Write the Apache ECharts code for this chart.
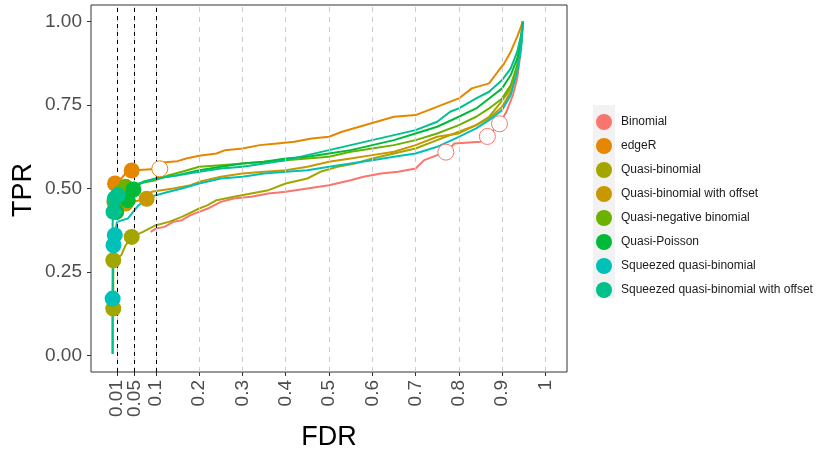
<!DOCTYPE html>
<html>
<head>
<meta charset="utf-8">
<script src="https://cdn.jsdelivr.net/npm/echarts@6/dist/echarts.min.js"></script>
<style>html,body{margin:0;padding:0;background:#fff}#c{width:832px;height:454px}</style>
</head>
<body>
<div id="c"></div>
<script>
// ---- data ----
const methods = ["Binomial","edgeR","Quasi-binomial","Quasi-binomial with offset","Quasi-negative binomial","Quasi-Poisson","Squeezed quasi-binomial","Squeezed quasi-binomial with offset"];
const colors = ["#F8766D","#E58700","#A3A500","#C99800","#6BB100","#00BA38","#00C0B8","#00C08B"];
const xTicks = [0.01,0.05,0.1,0.2,0.3,0.4,0.5,0.6,0.7,0.8,0.9,1];
const xTickLabels = ["0.01","0.05","0.1","0.2","0.3","0.4","0.5","0.6","0.7","0.8","0.9","1"];
const yTicks = [0,0.25,0.5,0.75,1];
const yTickLabels = ["0.00","0.25","0.50","0.75","1.00"];
const thresholds = [0.01,0.05,0.1];

// curves: [FDR, TPR]
const curveBinomial = [[0.088,0.37],[0.10,0.38],[0.12,0.385],[0.14,0.40],[0.16,0.405],[0.18,0.42],[0.20,0.43],[0.22,0.44],[0.25,0.46],[0.28,0.47],[0.32,0.475],[0.36,0.485],[0.40,0.49],[0.45,0.50],[0.50,0.51],[0.55,0.525],[0.58,0.535],[0.62,0.545],[0.66,0.55],[0.70,0.56],[0.72,0.585],[0.75,0.60],[0.77,0.609],[0.79,0.635],[0.85,0.64],[0.866,0.656],[0.88,0.675],[0.894,0.694],[0.91,0.73],[0.925,0.78],[0.935,0.83],[0.942,0.90],[0.948,1.0]];
const curveEdgeR = [[0.004,0.50],[0.0055,0.515],[0.02,0.53],[0.03,0.545],[0.044,0.554],[0.07,0.556],[0.109,0.559],[0.115,0.578],[0.15,0.582],[0.17,0.59],[0.2,0.598],[0.24,0.605],[0.26,0.615],[0.3,0.62],[0.34,0.63],[0.38,0.635],[0.42,0.64],[0.46,0.65],[0.5,0.655],[0.53,0.67],[0.57,0.685],[0.61,0.70],[0.65,0.715],[0.70,0.72],[0.73,0.735],[0.77,0.755],[0.80,0.77],[0.83,0.80],[0.87,0.815],[0.89,0.85],[0.905,0.875],[0.92,0.91],[0.935,0.955],[0.948,1.0]];
const curveQB = [[0.0015,0.14],[0.0015,0.285],[0.02,0.30],[0.03,0.33],[0.044,0.355],[0.07,0.37],[0.1,0.39],[0.13,0.40],[0.16,0.415],[0.2,0.44],[0.22,0.45],[0.24,0.465],[0.28,0.475],[0.32,0.485],[0.36,0.495],[0.40,0.515],[0.45,0.53],[0.48,0.55],[0.52,0.565],[0.56,0.575],[0.60,0.59],[0.65,0.605],[0.70,0.62],[0.75,0.645],[0.80,0.67],[0.84,0.69],[0.87,0.715],[0.895,0.755],[0.915,0.79],[0.93,0.84],[0.94,0.90],[0.948,1.0]];
const curveQBOffset = [[0.005,0.41],[0.008,0.43],[0.03,0.455],[0.0785,0.469],[0.09,0.49],[0.14,0.50],[0.18,0.51],[0.2,0.52],[0.25,0.535],[0.3,0.545],[0.35,0.55],[0.4,0.555],[0.45,0.565],[0.5,0.58],[0.55,0.59],[0.6,0.60],[0.65,0.61],[0.7,0.63],[0.75,0.655],[0.8,0.665],[0.84,0.69],[0.87,0.71],[0.9,0.745],[0.92,0.79],[0.935,0.85],[0.943,0.92],[0.948,1.0]];
const curveQNB = [[0.003,0.44],[0.004,0.46],[0.02,0.49],[0.03,0.505],[0.06,0.515],[0.1,0.525],[0.13,0.54],[0.16,0.55],[0.2,0.565],[0.25,0.57],[0.3,0.575],[0.35,0.58],[0.4,0.585],[0.45,0.59],[0.5,0.595],[0.55,0.61],[0.6,0.62],[0.65,0.63],[0.7,0.645],[0.75,0.665],[0.8,0.69],[0.84,0.715],[0.87,0.74],[0.9,0.77],[0.92,0.81],[0.935,0.87],[0.944,0.93],[0.948,1.0]];
const curveQP = [[0.005,0.41],[0.008,0.43],[0.035,0.465],[0.048,0.497],[0.07,0.52],[0.1,0.53],[0.15,0.54],[0.2,0.555],[0.25,0.565],[0.3,0.575],[0.35,0.58],[0.4,0.59],[0.45,0.595],[0.5,0.605],[0.55,0.615],[0.6,0.63],[0.65,0.645],[0.7,0.665],[0.75,0.685],[0.8,0.715],[0.84,0.74],[0.87,0.77],[0.9,0.80],[0.92,0.84],[0.935,0.89],[0.944,0.94],[0.948,1.0]];
const curveSqQB = [[0,0.005],[0,0.17],[0.002,0.33],[0.005,0.36],[0.01,0.40],[0.035,0.41],[0.06,0.45],[0.08,0.47],[0.1,0.48],[0.13,0.49],[0.16,0.50],[0.2,0.515],[0.25,0.53],[0.3,0.535],[0.35,0.545],[0.4,0.55],[0.45,0.555],[0.5,0.565],[0.55,0.575],[0.6,0.585],[0.65,0.595],[0.7,0.605],[0.75,0.625],[0.8,0.655],[0.84,0.68],[0.87,0.705],[0.9,0.735],[0.92,0.78],[0.935,0.85],[0.944,0.92],[0.948,1.0]];
const curveSqQBOffset = [[0,0.005],[0,0.40],[0.002,0.43],[0.005,0.47],[0.012,0.48],[0.03,0.495],[0.05,0.51],[0.1,0.53],[0.15,0.54],[0.2,0.55],[0.25,0.56],[0.3,0.565],[0.35,0.575],[0.4,0.585],[0.45,0.60],[0.5,0.615],[0.55,0.63],[0.6,0.645],[0.65,0.66],[0.7,0.675],[0.75,0.70],[0.78,0.73],[0.8,0.74],[0.84,0.77],[0.87,0.79],[0.9,0.825],[0.92,0.86],[0.935,0.91],[0.944,0.96],[0.948,1.0]];

// threshold points: [FDR, TPR, satisfied(1=filled)]
const ptsBinomial = [[0.77,0.609,0],[0.866,0.656,0],[0.894,0.694,0]];
const ptsEdgeR = [[0.0055,0.515,1],[0.044,0.554,1],[0.109,0.559,0]];
const ptsQB = [[0.0015,0.14,1],[0.0015,0.285,1],[0.044,0.355,1]];
const ptsQBOffset = [[0.008,0.43,1],[0.03,0.455,1],[0.0785,0.469,1]];
const ptsQNB = [[0.004,0.46,1],[0.02,0.49,1],[0.03,0.505,1]];
const ptsQP = [[0.008,0.43,1],[0.035,0.465,1],[0.048,0.497,1]];
const ptsSqQB = [[0,0.17,1],[0.002,0.33,1],[0.005,0.36,1]];
const ptsSqQBOffset = [[0.002,0.43,1],[0.005,0.47,1],[0.012,0.48,1]];

const curves = [curveBinomial,curveEdgeR,curveQB,curveQBOffset,curveQNB,curveQP,curveSqQB,curveSqQBOffset];
const points = [ptsBinomial,ptsEdgeR,ptsQB,ptsQBOffset,ptsQNB,ptsQP,ptsSqQB,ptsSqQBOffset];

// ---- chart ----
const FONT = "Liberation Sans, Arial, sans-serif";
const chart = echarts.init(document.getElementById('c'), null, {renderer:'canvas'});
const series = [];
series.push({
  type:'line', data:[], silent:true, z:1,
  markLine:{silent:true, symbol:['none','none'], label:{show:false}, animation:false,
    lineStyle:{color:'#CCCCCC', type:[5,5], width:1},
    data: xTicks.map(v=>({xAxis:v}))}
});
series.push({
  type:'line', data:[], silent:true, z:2,
  markLine:{silent:true, symbol:['none','none'], label:{show:false}, animation:false,
    lineStyle:{color:'#000000', type:[4,4], width:1},
    data: thresholds.map(v=>({xAxis:v}))}
});
methods.forEach((m,i)=>{
  series.push({
    name:m, type:'line', data:curves[i], symbol:'none', showSymbol:false,
    color:colors[i], lineStyle:{width:2, color:colors[i]}, z:3, animation:false
  });
});
methods.forEach((m,i)=>{
  series.push({
    name:m, type:'scatter', symbol:'circle', symbolSize:16, z:5, animation:false,
    color:colors[i],
    data: points[i].map(p=>({value:[p[0],p[1]], itemStyle: p[2] ? {color:colors[i], borderWidth:0, opacity:1} : {color:'#FFFFFF', borderColor:colors[i], borderWidth:1, opacity:1}}))
  });
});

const fmtX = (v)=>{const k=xTicks.findIndex(t=>Math.abs(t-v)<1e-9); return k>=0?xTickLabels[k]:'';};
// labels that overlap (0.01 / 0.05) are split over two coincident axes so both are drawn
const xLabelsA = xTicks.filter((_,i)=>i!==1);
const xLabelsB = [xTicks[1]];
const xLabelStyle = {rotate:90, margin:8, hideOverlap:false, fontFamily:FONT, fontSize:19, color:'#4D4D4D', formatter:fmtX};

chart.setOption({
  animation:false,
  backgroundColor:'#FFFFFF',
  grid:{left:91, right:265, top:5, bottom:82, show:true, borderColor:'#333333', borderWidth:1, backgroundColor:'transparent'},
  xAxis:[
    {type:'value', min:-0.05, max:1.05, position:'bottom',
      axisLine:{show:false, onZero:false}, splitLine:{show:false},
      axisTick:{show:true, length:4, lineStyle:{color:'#333333'}, customValues:xTicks},
      axisLabel:Object.assign({customValues:xLabelsA}, xLabelStyle)},
    {type:'value', min:-0.05, max:1.05, position:'bottom', offset:0,
      axisLine:{show:false, onZero:false}, splitLine:{show:false},
      axisTick:{show:false, customValues:xLabelsB},
      axisLabel:Object.assign({customValues:xLabelsB}, xLabelStyle)}
  ],
  yAxis:{type:'value', min:-0.05, max:1.05,
    axisLine:{show:false, onZero:false}, splitLine:{show:false},
    axisTick:{show:true, length:4, lineStyle:{color:'#333333'}, customValues:yTicks},
    axisLabel:{customValues:yTicks, margin:9, hideOverlap:false, fontFamily:FONT, fontSize:19, color:'#4D4D4D',
      formatter:(v)=>{const k=yTicks.findIndex(t=>Math.abs(t-v)<1e-9); return k>=0?yTickLabels[k]:'';}}
  },
  legend:{
    orient:'vertical', left:591, top:109, itemWidth:16, itemHeight:16, itemGap:8, icon:'circle',
    data:methods, z:5,
    textStyle:{fontFamily:FONT, fontSize:12, color:'#1A1A1A', padding:[0,0,0,4]}
  },
  graphic:[
    {type:'rect', z:0, shape:{x:593, y:105, width:22, height:193}, style:{fill:'#F2F2F2'}},
    {type:'text', x:24, y:190, rotation:Math.PI/2, style:{text:'TPR', font:'27px '+FONT, fill:'#000', textAlign:'center', textVerticalAlign:'middle'}},
    {type:'text', x:329, y:438, style:{text:'FDR', font:'27px '+FONT, fill:'#000', textAlign:'center', textVerticalAlign:'middle'}}
  ],
  series:series
});
</script>
</body>
</html>
